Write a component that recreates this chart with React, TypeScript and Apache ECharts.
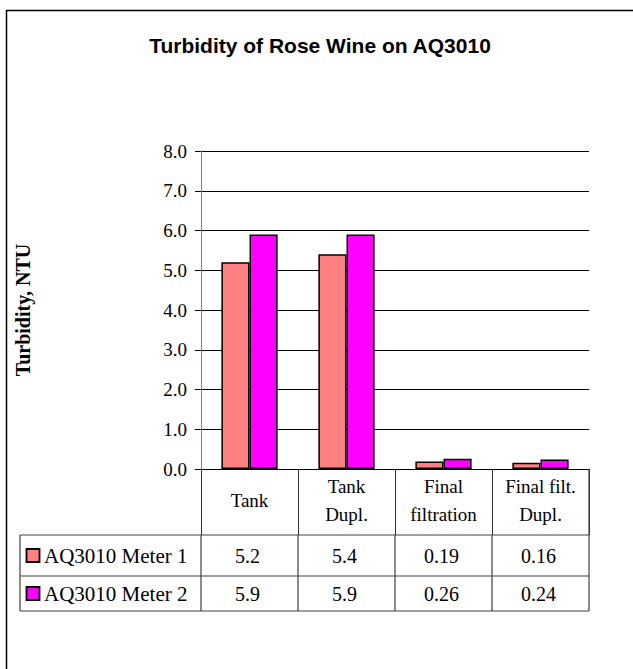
import React, { useEffect, useRef } from "react";
import * as echarts from "echarts";

const titleText = "Turbidity of Rose Wine on AQ3010";
const yAxisName = "Turbidity, NTU";
const categories = ["Tank", "Tank\nDupl.", "Final\nfiltration", "Final filt.\nDupl."];
const seriesNames = ["AQ3010 Meter 1", "AQ3010 Meter 2"];
const meter1 = [5.2, 5.4, 0.19, 0.16];
const meter2 = [5.9, 5.9, 0.26, 0.24];
const colors = ["#FF8080", "#FF00FF"];
const yMin = 0;
const yMax = 8;
const yInterval = 1;

const SERIF = "'Liberation Serif', 'Times New Roman', serif";
const SANS = "'Liberation Sans', Arial, sans-serif";

export default function App() {
  const ref = useRef<HTMLDivElement>(null);
  useEffect(() => {
    if (!ref.current) return;
    const chart = echarts.init(ref.current, undefined, { renderer: "svg" });
    const headerH = 66;
    chart.setOption({
      animation: false,
      backgroundColor: "#fff",
      title: {
        text: titleText,
        left: 315,
        top: 30,
        textAlign: "center",
        textStyle: { fontFamily: SANS, fontWeight: "bold", fontSize: 21, color: "#000" },
      },
      grid: { left: 201, right: 44, top: 151, bottom: 200, containLabel: false },
      xAxis: {
        type: "category",
        data: categories,
        axisLine: { lineStyle: { color: "#000", width: 1 } },
        axisTick: { show: true, length: headerH, lineStyle: { color: "#333", width: 1 } },
        axisLabel: {
          interval: 0,
          margin: 31,
          verticalAlign: "middle",
          fontFamily: SERIF,
          fontSize: 19,
          lineHeight: 28,
          color: "#000",
        },
      },
      yAxis: {
        type: "value",
        min: yMin,
        max: yMax,
        interval: yInterval,
        axisLine: { show: true, lineStyle: { color: "#808080", width: 1 } },
        axisTick: { show: true, length: 6, lineStyle: { color: "#000" } },
        axisLabel: {
          margin: 14,
          fontFamily: SERIF,
          fontSize: 19,
          color: "#000",
          formatter: (v: number) => v.toFixed(1),
        },
        splitLine: { show: true, lineStyle: { color: "#000", width: 1 } },
      },
      series: [
        {
          name: seriesNames[0],
          type: "bar",
          data: meter1,
          barGap: "0%",
          barCategoryGap: "42%",
          itemStyle: { color: colors[0], borderColor: "#000", borderWidth: 1.5 },
        },
        {
          name: seriesNames[1],
          type: "bar",
          data: meter2,
          barGap: "0%",
          barCategoryGap: "42%",
          itemStyle: { color: colors[1], borderColor: "#000", borderWidth: 1.5 },
        },
      ],
    });

    const c0 = chart.convertToPixel({ xAxisIndex: 0 }, 0) as number;
    const c1 = chart.convertToPixel({ xAxisIndex: 0 }, 1) as number;
    const band = c1 - c0;
    const plotLeft = c0 - band / 2;
    const plotRight = plotLeft + band * categories.length;
    const yBase = chart.convertToPixel({ yAxisIndex: 0 }, 0) as number;
    const hdrBottom = yBase + headerH;
    const rowHs = [41, 35];
    const tableLeft = 20;
    const rowTops = [hdrBottom, hdrBottom + rowHs[0]];
    const tableBottom = hdrBottom + rowHs[0] + rowHs[1];
    const lineStyle = { stroke: "#404040", lineWidth: 1.2 };
    const graphics: any[] = [];

    graphics.push({
      type: "rect",
      shape: { x: 6.5, y: 10.5, width: 700, height: 700 },
      style: { fill: "none", stroke: "#000", lineWidth: 1.5 },
      silent: true,
    });
    graphics.push({
      type: "text",
      x: 23,
      y: (yBase + (chart.convertToPixel({ yAxisIndex: 0 }, yMax) as number)) / 2,
      rotation: Math.PI / 2,
      style: {
        text: yAxisName,
        fontFamily: SERIF,
        fontWeight: "bold",
        fontSize: 20,
        fill: "#000",
        align: "center",
        verticalAlign: "middle",
      },
    });
    [hdrBottom, rowTops[1], tableBottom].forEach((y) => {
      graphics.push({
        type: "line",
        shape: { x1: tableLeft, y1: y, x2: plotRight, y2: y },
        style: lineStyle,
      });
    });
    const xs = [tableLeft];
    for (let i = 0; i <= categories.length; i++) xs.push(plotLeft + band * i);
    xs.forEach((x) => {
      graphics.push({
        type: "line",
        shape: { x1: x, y1: hdrBottom, x2: x, y2: tableBottom },
        style: lineStyle,
      });
    });
    graphics.push({
      type: "line",
      shape: { x1: plotRight, y1: yBase, x2: plotRight, y2: hdrBottom },
      style: lineStyle,
    });
    const rows = [meter1, meter2];
    rows.forEach((vals, r) => {
      const cy = rowTops[r] + rowHs[r] / 2;
      graphics.push({
        type: "rect",
        shape: { x: 26.5, y: cy - 6.5, width: 13, height: 13 },
        style: { fill: colors[r], stroke: "#000", lineWidth: 1.8 },
      });
      graphics.push({
        type: "text",
        x: 44,
        y: cy,
        style: {
          text: seriesNames[r],
          fontFamily: SERIF,
          fontSize: 21,
          fill: "#000",
          align: "left",
          verticalAlign: "middle",
        },
      });
      vals.forEach((v, i) => {
        const cx = chart.convertToPixel({ xAxisIndex: 0 }, i) as number;
        graphics.push({
          type: "text",
          x: cx - 2,
          y: cy,
          style: {
            text: String(v),
            fontFamily: SERIF,
            fontSize: 20,
            fill: "#000",
            align: "center",
            verticalAlign: "middle",
          },
        });
      });
    });
    chart.setOption({ graphic: graphics });

    return () => chart.dispose();
  }, []);
  return (
    <div
      ref={ref}
      style={{ position: "fixed", left: 0, top: 0, width: 633, height: 669, background: "#fff" }}
    />
  );
}
